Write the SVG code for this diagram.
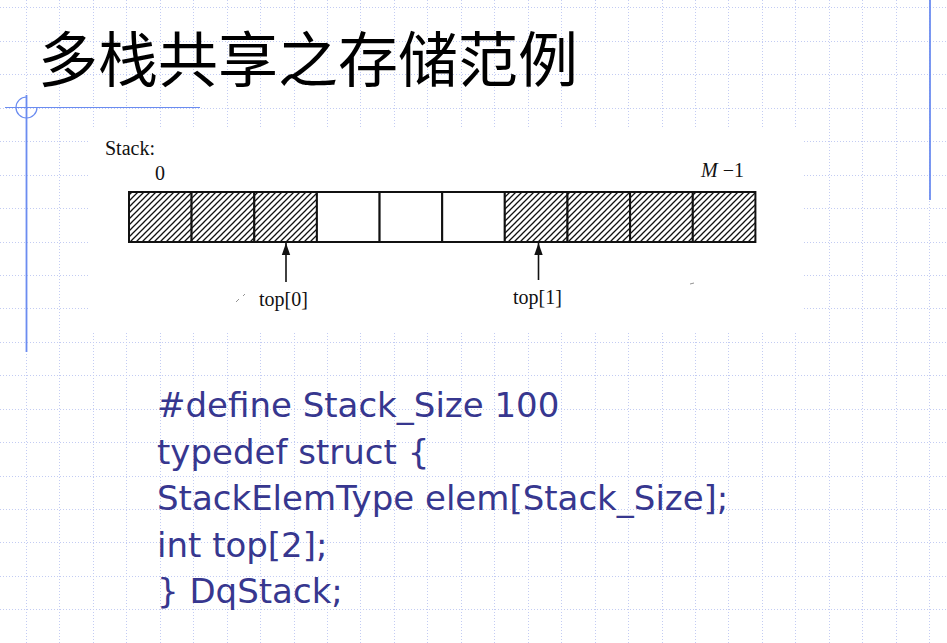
<svg xmlns="http://www.w3.org/2000/svg" width="947" height="643" viewBox="0 0 947 643">
<style>
.grid{stroke:#c3ccf3;stroke-width:1;stroke-dasharray:1 2;fill:none}
.deco{stroke:#6b8cf0;fill:none}
.title{font-family:"Noto Sans CJK SC","Noto Sans CJK JP",sans-serif;font-size:60px;fill:#000}
.serif{font-family:"Liberation Serif","Times New Roman",serif;font-size:20px;fill:#111}
.code{font-family:"DejaVu Sans","Verdana",sans-serif;font-size:34px;fill:#37378f}
.cell{stroke:#111;stroke-width:2}
.arrow{stroke:#111;stroke-width:1.6;fill:none}
</style>
<defs>
<pattern id="hatch" patternUnits="userSpaceOnUse" width="6" height="6">
<rect width="6" height="6" fill="#fff"/>
<path d="M-1,7 L7,-1 M-1,1 L1,-1 M5,7 L7,5" stroke="#111" stroke-width="1.3"/>
</pattern>
<marker id="head" viewBox="0 0 10 10" refX="10" refY="5" markerWidth="12" markerHeight="12" markerUnits="userSpaceOnUse" orient="auto">
<path d="M0,1.5 L10,5 L0,8.5 Z" fill="#111"/>
</marker>
</defs>
<rect width="947" height="643" fill="#fff"/>
<g id="grid">
<path class="grid" d="M26.5 0V643M59.5 0V643M93.5 0V643M126.5 0V643M160.5 0V643M193.5 0V643M227.5 0V643M260.5 0V643M294.5 0V643M327.5 0V643M360.5 0V643M394.5 0V643M427.5 0V643M461.5 0V643M494.5 0V643M528.5 0V643M561.5 0V643M595.5 0V643M628.5 0V643M662.5 0V643M695.5 0V643M728.5 0V643M762.5 0V643M795.5 0V643M829.5 0V643M862.5 0V643M896.5 0V643M929.5 0V643"/>
<path class="grid" d="M0 7.5H947M0 41.5H947M0 74.5H947M0 108.5H947M0 141.5H947M0 175.5H947M0 208.5H947M0 242.5H947M0 275.5H947M0 308.5H947M0 342.5H947M0 375.5H947M0 409.5H947M0 442.5H947M0 476.5H947M0 509.5H947M0 542.5H947M0 576.5H947M0 609.5H947"/>
</g>
<g id="decoration">
<line class="deco" x1="930" y1="0" x2="930" y2="200" stroke-width="1.8"/>
<line class="deco" x1="26.5" y1="95" x2="26.5" y2="352" stroke-width="1.8"/>
<line class="deco" x1="5" y1="107.5" x2="200" y2="107.5" stroke-width="1.2"/>
<path class="deco" d="M26.5,97 A10.5,10.5 0 1 0 37,107.5" stroke-width="1.2"/>
</g>
<g id="title">
<text class="title" x="38" y="82">多栈共享之存储范例</text>
</g>
<rect x="90" y="127" width="713" height="204" fill="#fff"/>
<g id="figure-labels">
<text class="serif" x="105" y="155">Stack:</text>
<text class="serif" x="155" y="180">0</text>
<text class="serif" x="701" y="177"><tspan font-style="italic">M</tspan> −1</text>
</g>
<g id="stack-array">
<g id="cell0"><rect class="cell" x="129" y="192" width="62.6" height="50" fill="url(#hatch)"/></g>
<g id="cell1"><rect class="cell" x="191.6" y="192" width="62.7" height="50" fill="url(#hatch)"/></g>
<g id="cell2"><rect class="cell" x="254.3" y="192" width="62.6" height="50" fill="url(#hatch)"/></g>
<g id="cell3"><rect class="cell" x="316.9" y="192" width="62.7" height="50" fill="#fff"/></g>
<g id="cell4"><rect class="cell" x="379.6" y="192" width="62.6" height="50" fill="#fff"/></g>
<g id="cell5"><rect class="cell" x="442.2" y="192" width="62.6" height="50" fill="#fff"/></g>
<g id="cell6"><rect class="cell" x="504.8" y="192" width="62.7" height="50" fill="url(#hatch)"/></g>
<g id="cell7"><rect class="cell" x="567.5" y="192" width="62.6" height="50" fill="url(#hatch)"/></g>
<g id="cell8"><rect class="cell" x="630.1" y="192" width="62.7" height="50" fill="url(#hatch)"/></g>
<g id="cell9"><rect class="cell" x="692.8" y="192" width="62.6" height="50" fill="url(#hatch)"/></g>
</g>
<g id="connectors">
<line class="arrow" x1="286" y1="282" x2="286" y2="243" marker-end="url(#head)"/>
<line class="arrow" x1="538.5" y1="280" x2="538.5" y2="243" marker-end="url(#head)"/>
</g>
<g id="top0"><text class="serif" x="259" y="306">top[0]</text></g>
<g id="top1"><text class="serif" x="513" y="304">top[1]</text></g>
<g id="specks" stroke="#777" stroke-width="0.8">
<line x1="236" y1="302" x2="239" y2="299"/>
<line x1="243" y1="296" x2="245" y2="294"/>
<line x1="690" y1="284" x2="694" y2="283"/>
</g>
<g id="code">
<text class="code" x="157" y="417">#define Stack_Size 100</text>
<text class="code" x="157" y="464">typedef struct {</text>
<text class="code" x="157" y="510">StackElemType elem[Stack_Size];</text>
<text class="code" x="157" y="557">int top[2];</text>
<text class="code" x="157" y="603">} DqStack;</text>
</g>
</svg>
